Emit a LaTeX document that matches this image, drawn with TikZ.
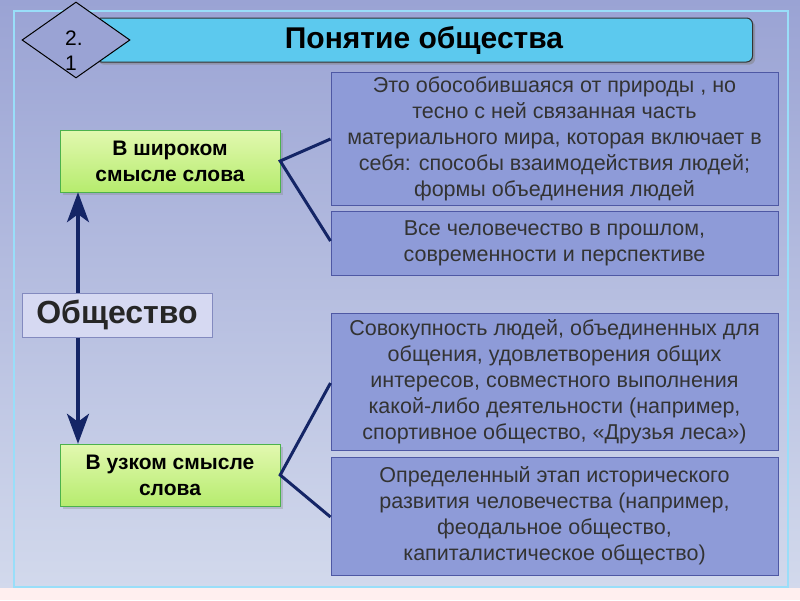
\documentclass[tikz,border=0pt]{standalone}
\usepackage{fontspec}
\setmainfont{Liberation Sans}
\usetikzlibrary{shapes.geometric, arrows.meta, positioning, shadows}

\definecolor{bgtop}{HTML}{9AA3D4}
\definecolor{bgbot}{HTML}{D2D9EC}
\definecolor{titlecyan}{HTML}{5CC9EE}
\definecolor{descfill}{HTML}{8E9BD8}
\definecolor{descline}{HTML}{4E58A4}
\definecolor{navy}{HTML}{142566}
\definecolor{greenlt}{HTML}{E2F8B0}
\definecolor{greendk}{HTML}{B6EC6E}
\definecolor{lavender}{HTML}{D6D9F2}

\begin{document}
\begin{tikzpicture}[
        x=1pt, y=-1pt,
        desc/.style={draw=descline, fill=descfill, line width=1pt, align=center,
            minimum width=447pt, text=black!80, font=\fontsize{21.5}{26}\selectfont},
        sense/.style={draw=green!40!gray, top color=greenlt, bottom color=greendk,
            minimum width=220pt, minimum height=62pt, align=center,
            font=\bfseries\fontsize{21}{26}\selectfont, drop shadow={opacity=0.3}},
        tie/.style={navy, line width=3pt},
        pointer/.style={navy, line width=3.5pt, -{Stealth[length=30pt, width=22pt, inset=8pt]}}
    ]
        \useasboundingbox (0,0) rectangle (800,600);
        % background and panel
        \shade[top color=bgtop, bottom color=bgbot] (0,0) rectangle (800,588);
        \fill[pink!25] (0,588) rectangle (800,600);
        \draw[cyan!40, line width=1.5pt] (14,11) rectangle (788,587);

        % title
        \node[draw=black!80, fill=titlecyan, rounded corners=6pt, line width=1pt,
            minimum width=657pt, minimum height=44pt, drop shadow={opacity=0.5},
            font=\bfseries\fontsize{30}{32}\selectfont] (title) at (424,40) {Понятие общества};
        \node[diamond, draw=black, fill=bgtop, line width=1pt, minimum width=108pt,
            minimum height=76pt, inner sep=0pt] (num) at (76,40) {};
        \node[font=\fontsize{21}{25}\selectfont, align=left] (numtext) at (74,51) {2.\\1};

        % left column
        \node[sense] (wide) at (170,161) {В широком\\смысле слова};
        \node[sense] (narrow) at (170,475) {В узком смысле\\слова};
        \node[draw=descline!70, fill=lavender, line width=1pt,
            minimum width=190pt, minimum height=44pt,
            font=\bfseries\fontsize{32}{34}\selectfont, text=black!85] (society) at (117,315) {Общество};

        % right column
        \node[desc, minimum height=133pt] (d1) at (554.5,138.5) {Это обособившаяся от природы , но\\тесно с ней связанная часть\\материального мира, которая включает в\\себя: способы взаимодействия людей;\\формы объединения людей};
        \node[desc, minimum height=64pt] (d2) at (554.5,243) {Все человечество в прошлом,\\современности и перспективе};
        \node[desc, minimum height=137pt] (d3) at (554.5,381.5) {Совокупность людей, объединенных для\\общения, удовлетворения общих\\интересов, совместного выполнения\\какой-либо деятельности (например,\\спортивное общество, «Друзья леса»)};
        \node[desc, minimum height=118pt] (d4) at (554.5,516) {Определенный этап исторического\\развития человечества (например,\\феодальное общество,\\капиталистическое общество)};

        % arrows from society
        \draw[pointer] (society.north -| 78,0) -- (wide.south -| 78,0);
        \draw[pointer] (society.south -| 78,0) -- (narrow.north -| 78,0);

        % ties to the descriptions
        \draw[tie] (d1.west |- 0,139) -- (wide.east) -- (d2.west |- 0,241);
        \draw[tie] (d3.west |- 0,383) -- (narrow.east) -- (d4.west |- 0,517);
    \end{tikzpicture}
\end{document}
